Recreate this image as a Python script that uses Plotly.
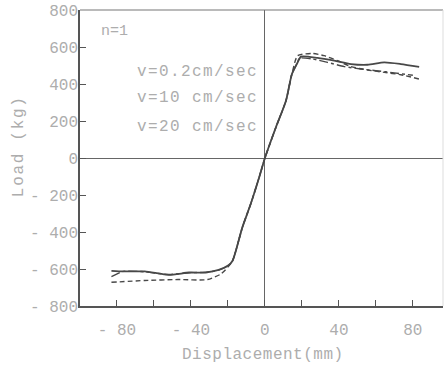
import plotly.graph_objects as go

# Displacement (mm) and Load (kg) for each loading rate
disp_a = [-83, -76.6, -65, -52, -41, -32, -25, -19.7, -17.5, -15.7, -12.2, -7.7, -3.1, 0,
          5.9, 11.4, 14.6, 17.7, 19.5, 28.5, 37.5, 46.5, 55.5, 64.5, 73.5, 83.4]
load_a = [-610, -613, -613, -632, -619, -619, -605, -580, -555, -501, -375, -249, -104, 0,
          165, 310, 454, 517, 548, 541, 526, 508, 504, 517, 508, 493]

disp_b = [-83, -76.6, -65, -52, -41, -32, -25, -19.7, -17.5, -15.7, -12.2, -7.7, -3.1, 0,
          5.9, 11.4, 14.6, 17.7, 18.6, 25.8, 33.9, 42.9, 51.9, 60, 70, 80]
load_b = [-641, -613, -615, -630, -620, -618, -606, -582, -555, -501, -375, -249, -104, 0,
          165, 310, 454, 517, 540, 535, 517, 494, 481, 472, 460, 447]

disp_c = [-83, -65, -47, -31, -23.8, -19.8, -17.5, -15.7, -12.2, -7.7, -3.1, 0,
          5.9, 11.4, 14.6, 17.7, 25.8, 32.1, 39.3, 46.5, 55.5, 64.5, 73.5, 83.4]
load_c = [-672, -662, -657, -657, -627, -587, -555, -501, -375, -249, -104, 0,
          165, 310, 454, 553, 565, 553, 526, 494, 476, 463, 450, 427]

series_labels = ["v=0.2cm/sec", "v=10 cm/sec", "v=20 cm/sec"]
x_tickvals = [-80, -60, -40, -20, 0, 20, 40, 60, 80]
x_ticktext = ["- 80", "", "- 40", "", "0", "", "40", "", "80"]
y_tickvals = [-800, -600, -400, -200, 0, 200, 400, 600, 800]
y_ticktext = ["- 800", "- 600", "- 400", "- 200", "0", "200", "400", "600", "800"]

FONT = "Liberation Mono, DejaVu Sans Mono, monospace"
TXT = "#adadad"
LINE = "#484848"


def spaced(s, px):
    return '<span style="letter-spacing:%spx">%s</span>' % (px, s)


fig = go.Figure()
fig.add_trace(go.Scatter(x=disp_a, y=load_a, mode="lines", name=series_labels[0],
                         line=dict(color=LINE, width=1.8, shape="spline", smoothing=0.6)))
fig.add_trace(go.Scatter(x=disp_b, y=load_b, mode="lines", name=series_labels[1],
                         line=dict(color=LINE, width=1.4, dash="dashdot", shape="spline", smoothing=0.6)))
fig.add_trace(go.Scatter(x=disp_c, y=load_c, mode="lines", name=series_labels[2],
                         line=dict(color=LINE, width=1.4, dash="5px,3px", shape="spline", smoothing=0.6)))

fig.update_layout(
    width=446, height=371,
    margin=dict(l=80, r=3, t=10, b=65, autoexpand=False),
    paper_bgcolor="white", plot_bgcolor="white",
    showlegend=False,
    font=dict(family=FONT, color=TXT, size=15),
)
fig.update_xaxes(range=[-100, 96.3], tickvals=x_tickvals, ticktext=x_ticktext,
                 automargin=False, ticklabeloverflow="allow", ticklabelstandoff=8,
                 ticks="inside", ticklen=6, tickcolor="#555", tickwidth=1,
                 showgrid=False, zeroline=True, zerolinecolor="#666", zerolinewidth=1,
                 showline=True, linecolor="#555", linewidth=1.5, mirror=False,
                 tickfont=dict(family=FONT, size=16, color=TXT))
fig.update_yaxes(range=[-800, 800], tickvals=y_tickvals, ticktext=y_ticktext,
                 automargin=False, ticklabeloverflow="allow", ticklabelstandoff=-3,
                 ticks="inside", ticklen=6, tickcolor="#555", tickwidth=1,
                 showgrid=False, zeroline=True, zerolinecolor="#666", zerolinewidth=1,
                 showline=True, linecolor="#555", linewidth=1.5,
                 tickfont=dict(family=FONT, size=16, color=TXT))

# top and right frame lines
fig.add_shape(type="line", xref="paper", yref="paper", x0=0, x1=1, y0=1, y1=1,
              line=dict(color="#777", width=1.2))
fig.add_shape(type="line", xref="paper", yref="paper", x0=1, x1=1, y0=0, y1=1,
              line=dict(color="#ddd", width=1))

fig.add_annotation(text="n=1", xref="paper", yref="paper", x=0.096, y=0.926,
                   xanchor="center", yanchor="middle",
                   showarrow=False, font=dict(family=FONT, size=15, color=TXT))
for lab, yy in zip(series_labels, [0.79, 0.703, 0.605]):
    fig.add_annotation(text=spaced(lab, 1.4), xref="paper", yref="paper", x=0.152, y=yy,
                       xanchor="left", yanchor="middle",
                       showarrow=False, font=dict(family=FONT, size=16, color=TXT))

fig.add_annotation(text=spaced("Displacement(mm)", 0.5), xref="paper", yref="paper",
                   x=0.504, y=-0.165, showarrow=False, xanchor="center", yanchor="middle",
                   font=dict(family=FONT, size=16, color=TXT))
fig.add_annotation(text=spaced("Load (kg)", 1.7), xref="paper", yref="paper", x=-0.168, y=0.54,
                   showarrow=False, textangle=-90, xanchor="center", yanchor="middle",
                   font=dict(family=FONT, size=16, color=TXT))

# remove the browser's default 8px page margin so the figure fills the window exactly
fig.write_html("out.html", config={"displayModeBar": False},
               post_script="document.body.style.margin='0px';")
